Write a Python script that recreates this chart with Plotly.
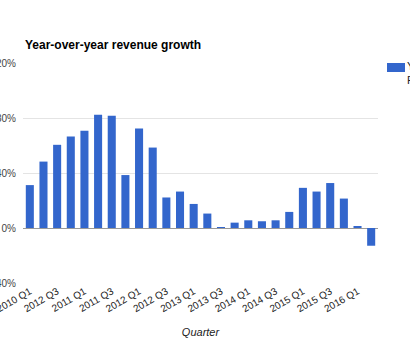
import plotly.graph_objects as go

quarters = ["2010 Q1", "2010 Q2", "2012 Q3", "2010 Q4",
            "2011 Q1", "2011 Q2", "2011 Q3", "2011 Q4",
            "2012 Q1", "2012 Q2", "2012 Q3", "2012 Q4",
            "2013 Q1", "2013 Q2", "2013 Q3", "2013 Q4",
            "2014 Q1", "2014 Q2", "2014 Q3", "2014 Q4",
            "2015 Q1", "2015 Q2", "2015 Q3", "2015 Q4",
            "2016 Q1", "2016 Q2"]
growth = [31.2, 48.3, 60.5, 66.5, 70.7, 82.4, 81.7, 38.5, 72.4, 58.5,
          22.2, 26.5, 17.5, 10.5, 0.6, 3.9, 5.6, 4.9, 5.6, 11.7,
          29.2, 26.5, 32.7, 21.4, 1.2, -12.9]
y_ticks = [-40, 0, 40, 80, 120]

W, H = 410, 344
L, R, T, B = 23, 32, 63, 61
pw, ph = W - L - R, H - T - B

x_idx = list(range(len(quarters)))
tick_idx = x_idx[::2]
tick_text = [quarters[i] for i in tick_idx]

fig = go.Figure()
fig.add_trace(go.Bar(x=x_idx, y=growth, marker=dict(color="#3366cc", line=dict(width=0)),
                     showlegend=False))

fig.update_layout(
    width=W, height=H,
    margin=dict(l=L, r=R, t=T, b=B, autoexpand=False),
    paper_bgcolor="white", plot_bgcolor="white",
    font=dict(family="Arial, Liberation Sans, sans-serif", color="#444"),
    bargap=0.41,
    showlegend=False,
    xaxis=dict(
        range=[-0.5, len(quarters) - 0.5],
        tickvals=tick_idx, ticktext=tick_text,
        tickangle=-30, tickfont=dict(size=10, color="#222"),
        ticklabeloverflow="allow",
        showgrid=False, zeroline=False, showline=False, ticks="",
        automargin=False,
        title=dict(text="<i>Quarter</i>", font=dict(size=11, color="#222"), standoff=15),
    ),
    yaxis=dict(
        range=[-40, 120],
        tickvals=y_ticks, ticktext=[f"{v}%" for v in y_ticks],
        tickfont=dict(size=10, color="#444"),
        ticklabeloverflow="allow",
        showgrid=True, gridcolor="#e4e4e4", gridwidth=1,
        zeroline=True, zerolinecolor="#999999", zerolinewidth=1,
        showline=False, ticks="", automargin=False,
        ticklabelstandoff=6,
    ),
)

fig.add_annotation(text="<b>Year-over-year revenue growth</b>", xref="paper", yref="paper",
                   x=0, y=1, xanchor="left", yanchor="bottom", yshift=9,
                   showarrow=False, font=dict(size=12, color="#000"))

# legend (clipped at right edge as in reference)
fig.add_shape(type="rect", xref="paper", yref="paper",
              x0=(387 - L) / pw, x1=(405 - L) / pw,
              y0=1 - 9 / ph, y1=1.0,
              fillcolor="#3366cc", line=dict(width=0))
fig.add_annotation(text="YoY<br>Revenue", xref="paper", yref="paper",
                   x=(408 - L) / pw, y=1.0, xanchor="left", yanchor="top",
                   xshift=-3, yshift=5,
                   align="left", showarrow=False, font=dict(size=11, color="#222"))

fig.write_html("out.html")
